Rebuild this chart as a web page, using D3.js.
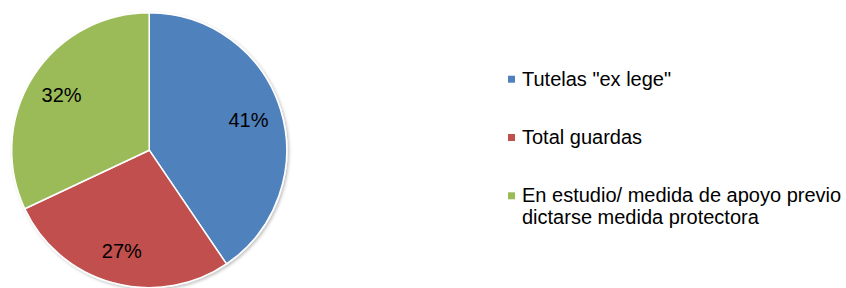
<!DOCTYPE html>
<html><head><meta charset="utf-8">
<script src="https://cdn.jsdelivr.net/npm/d3@7/dist/d3.min.js"></script>
<style>
html,body{margin:0;padding:0;background:#fff;}
svg{display:block;font-family:"Liberation Sans",Arial,sans-serif;}
</style></head>
<body>
<svg id="chart" width="846" height="288"></svg>
<script>
const categories = ['Tutelas "ex lege"', 'Total guardas', 'En estudio/ medida de apoyo previo dictarse medida protectora'];
const legendLines = [['Tutelas "ex lege"'], ['Total guardas'], ['En estudio/ medida de apoyo previo', 'dictarse medida protectora']];
const values = [40.5, 27.5, 32.0];
const labels = ['41%', '27%', '32%'];
const colors = ['#4F81BD', '#C0504D', '#9BBB59'];

const svg = d3.select('#chart');
const cx = 149.2, cy = 150.2, r = 137.5;

const defs = svg.append('defs');
const f = defs.append('filter').attr('id','sh').attr('x','-10%').attr('y','-10%').attr('width','120%').attr('height','120%');
f.append('feDropShadow').attr('dx',1.5).attr('dy',1.5).attr('stdDeviation',1.5).attr('flood-color','#000').attr('flood-opacity',0.25);

const pie = d3.pie().sort(null).value(d => d)(values);
const arc = d3.arc().innerRadius(0).outerRadius(r);
const labelArc = d3.arc().innerRadius(r * 0.755).outerRadius(r * 0.755);

const g = svg.append('g').attr('transform', `translate(${cx},${cy})`);
g.append('g').attr('filter','url(#sh)').selectAll('path').data(pie).join('path')
  .attr('d', arc).attr('fill', (d,i) => colors[i])
  .attr('stroke', '#fff').attr('stroke-width', 1.5).attr('stroke-linejoin','round');

g.selectAll('text.lbl').data(pie).join('text').attr('class','lbl')
  .attr('transform', d => `translate(${labelArc.centroid(d)})`)
  .attr('text-anchor','middle').attr('dy','0.36em')
  .attr('font-size', 20).attr('fill','#000')
  .text((d,i) => labels[i]);

const legendY = d3.scalePoint().domain(d3.range(categories.length)).range([85.7, 202.3]);
const lg = svg.append('g');
categories.forEach((c, i) => {
  const y = legendY(i);
  lg.append('rect').attr('x', 508).attr('y', y - 10).attr('width', 7).attr('height', 7).attr('fill', colors[i]);
  const t = lg.append('text').attr('x', 522).attr('y', y).attr('font-size', 20).attr('fill','#000');
  legendLines[i].forEach((ln, j) => {
    t.append('tspan').attr('x', 522).attr('dy', j === 0 ? 0 : 22).text(ln);
  });
});
</script>
</body></html>
